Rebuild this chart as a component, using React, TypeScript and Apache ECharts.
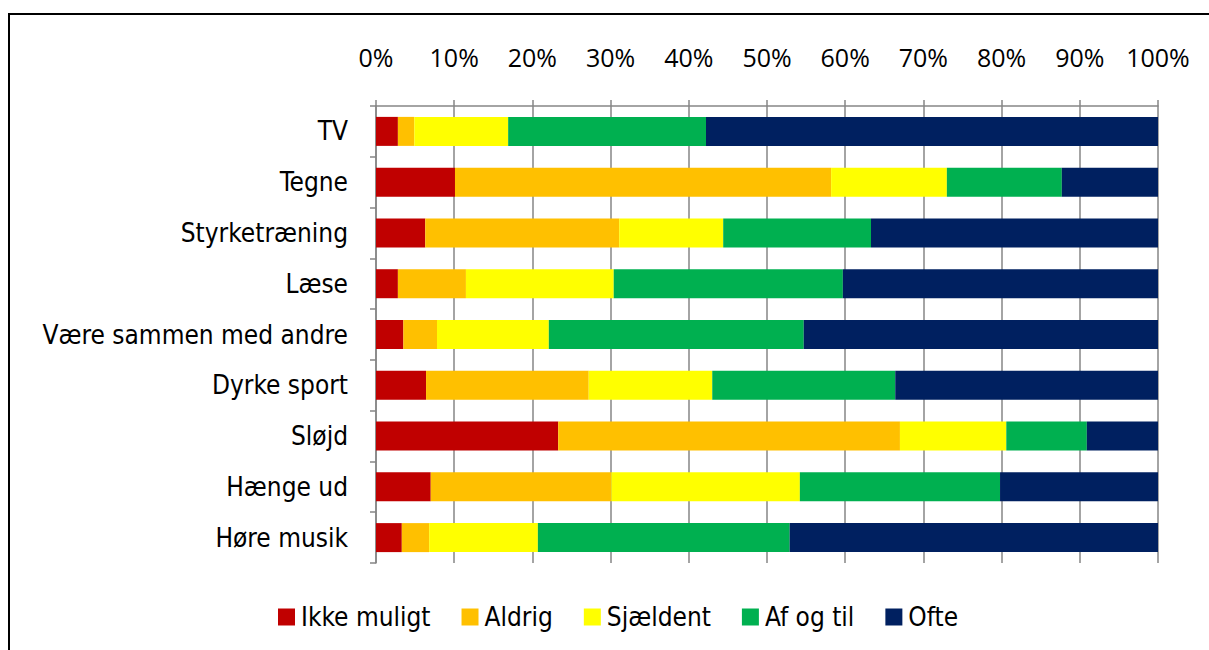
import React, { useEffect, useRef } from "react";
import * as echarts from "echarts";

const categories = [
  "TV",
  "Tegne",
  "Styrketræning",
  "Læse",
  "Være sammen med andre",
  "Dyrke sport",
  "Sløjd",
  "Hænge ud",
  "Høre musik",
];

const seriesNames = ["Ikke muligt", "Aldrig", "Sjældent", "Af og til", "Ofte"];
const seriesColors = ["#C00000", "#FFC000", "#FFFF00", "#00B050", "#002060"];

const ikkeMuligt = [2.8, 10.1, 6.3, 2.8, 3.5, 6.4, 23.3, 7.0, 3.3];
const aldrig = [2.1, 48.1, 24.8, 8.7, 4.3, 20.8, 43.7, 23.1, 3.5];
const sjaeldent = [12.0, 14.8, 13.3, 18.9, 14.3, 15.8, 13.6, 24.1, 13.9];
const afOgTil = [25.3, 14.7, 18.9, 29.3, 32.6, 23.4, 10.3, 25.6, 32.2];
const ofte = [57.8, 12.3, 36.7, 40.3, 45.3, 33.6, 9.1, 20.2, 47.1];

const seriesData = [ikkeMuligt, aldrig, sjaeldent, afOgTil, ofte];

const labelFont = '"Liberation Sans Narrow", "DejaVu Sans Condensed", "Open Sans", sans-serif';
const tickFont = '"Open Sans", sans-serif';

export default function App() {
  const ref = useRef<HTMLDivElement>(null);
  useEffect(() => {
    if (!ref.current) return;
    const chart = echarts.init(ref.current, null, { renderer: "svg" });
    chart.setOption({
      animation: false,
      backgroundColor: "#ffffff",
      graphic: [
        {
          type: "rect",
          shape: { x: 9, y: 14, width: 1300, height: 700 },
          style: { fill: "none", stroke: "#000", lineWidth: 2 },
          silent: true,
        },
      ],
      grid: { left: 376, right: 51, top: 106, bottom: 87, containLabel: false },
      legend: {
        top: 599,
        left: 273,
        itemWidth: 17,
        itemHeight: 17,
        itemGap: 31,
        icon: "rect",
        textStyle: { fontFamily: labelFont, fontSize: 26, color: "#000", padding: [0, 0, 0, 1] },
        data: seriesNames,
      },
      xAxis: {
        type: "value",
        position: "top",
        min: 0,
        max: 100,
        interval: 10,
        axisLabel: {
          formatter: "{value}%",
          fontFamily: tickFont,
          fontSize: 25,
          color: "#000",
          margin: 37,
        },
        axisLine: { show: true, lineStyle: { color: "#868686", width: 1.5 } },
        axisTick: { show: true, length: 6, lineStyle: { color: "#868686", width: 1.5 } },
        splitLine: { show: true, lineStyle: { color: "#868686", width: 1.5 } },
      },
      yAxis: {
        type: "category",
        inverse: true,
        data: categories,
        axisLabel: {
          fontFamily: labelFont,
          fontSize: 26,
          color: "#000",
          margin: 28,
        },
        axisLine: { show: true, lineStyle: { color: "#868686", width: 1.5 } },
        axisTick: { show: true, length: 6, lineStyle: { color: "#868686", width: 1.5 } },
      },
      series: seriesNames.map((name, i) => ({
        name,
        type: "bar",
        stack: "total",
        barWidth: 29,
        itemStyle: { color: seriesColors[i] },
        data: seriesData[i],
      })),
    });
    return () => chart.dispose();
  }, []);
  return (
    <div
      ref={ref}
      style={{ position: "fixed", left: 0, top: 0, width: 1209, height: 650 }}
    />
  );
}
